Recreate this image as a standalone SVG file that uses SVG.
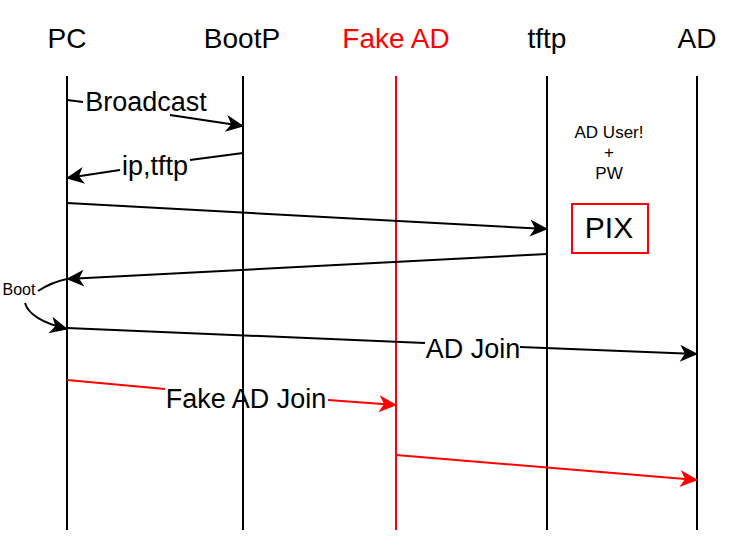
<svg xmlns="http://www.w3.org/2000/svg" width="751" height="536" viewBox="0 0 751 536">
<style>
text{font-family:"Liberation Sans",Arial,Helvetica,sans-serif;text-anchor:middle;fill:#000}
.hdr{font-size:28px}
.lbl{font-size:27px}
.note{font-size:17px}
.life{stroke:#000;stroke-width:2;fill:none}
.red{stroke:#ff0000}
.msg{stroke:#000;stroke-width:2;fill:none}
.msgr{stroke:#ff0000;stroke-width:2;fill:none}
</style>
<defs>
<marker id="ab" markerUnits="userSpaceOnUse" markerWidth="20" markerHeight="20" viewBox="0 0 20 20" refX="18" refY="10" orient="auto">
<path d="M1,1.5 L19,10 L1,18.5 L6,10 Z" fill="#000"/>
</marker>
<marker id="ar" markerUnits="userSpaceOnUse" markerWidth="20" markerHeight="20" viewBox="0 0 20 20" refX="18" refY="10" orient="auto">
<path d="M1,1.5 L19,10 L1,18.5 L6,10 Z" fill="#ff0000"/>
</marker>
</defs>
<rect width="751" height="536" fill="#fff"/>
<g id="pc"><text class="hdr" x="67" y="48">PC</text><line class="life" x1="67" y1="76" x2="67" y2="530"/></g>
<g id="bootp"><text class="hdr" x="242" y="48">BootP</text><line class="life" x1="243" y1="76" x2="243" y2="530"/></g>
<g id="fakead"><text class="hdr" x="396" y="48" style="fill:#ff0000">Fake AD</text><line class="life red" x1="396" y1="76" x2="396" y2="530"/></g>
<g id="tftp"><text class="hdr" x="547" y="48">tftp</text><line class="life" x1="547" y1="76" x2="547" y2="530"/></g>
<g id="ad"><text class="hdr" x="697" y="48">AD</text><line class="life" x1="697" y1="76" x2="697" y2="530"/></g>
<g id="note"><text class="note" x="609" y="138">AD User!</text><text class="note" x="609" y="158">+</text><text class="note" x="609" y="179">PW</text></g>
<g id="pix"><rect x="572" y="204" width="76" height="49" fill="#fff" stroke="#ff0000" stroke-width="2"/><text x="609" y="238" style="font-size:30px">PIX</text></g>
<g id="connectors">
<path class="msg" d="M67,100 L83,102"/>
<path class="msg" d="M170,115 L243,126" marker-end="url(#ab)"/>
<text class="lbl" x="146" y="111">Broadcast</text>
<path class="msg" d="M243,153 L190,160"/>
<path class="msg" d="M120,170 L67,178" marker-end="url(#ab)"/>
<text class="lbl" x="155" y="175">ip,tftp</text>
<path class="msg" d="M67,203 L547,229" marker-end="url(#ab)"/>
<path class="msg" d="M547,254 L67,279" marker-end="url(#ab)"/>
<text x="19" y="295" style="font-size:16px">Boot</text>
<path class="msg" d="M38,291 Q52,282 67,279"/>
<path class="msg" d="M25,303 Q30,320 67,329" marker-end="url(#ab)"/>
<path class="msg" d="M67,328 L425,343"/>
<path class="msg" d="M520,347 L697,354" marker-end="url(#ab)"/>
<text class="lbl" x="473" y="358">AD Join</text>
<path class="msgr" d="M67,380 L165,389"/>
<path class="msgr" d="M328,400 L396,405" marker-end="url(#ar)"/>
<text class="lbl" x="246" y="408">Fake AD Join</text>
<path class="msgr" d="M396,455 L697,480" marker-end="url(#ar)"/>
</g>
</svg>
